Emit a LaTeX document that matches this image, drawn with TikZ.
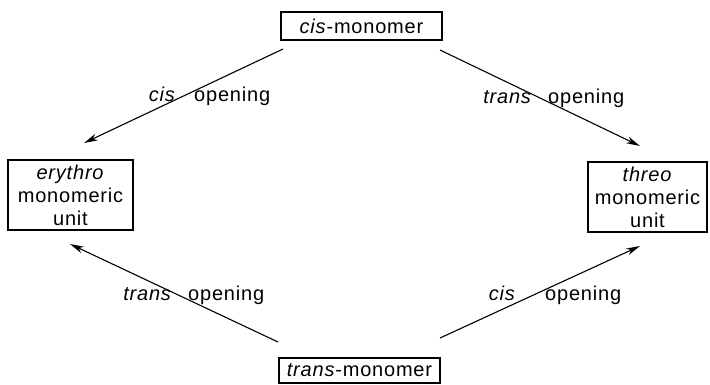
\documentclass[tikz,border=0pt]{standalone}
\usepackage{fontspec}
\setmainfont{Liberation Sans}[LetterSpace=4]
\usetikzlibrary{arrows.meta}
\begin{document}
\begin{tikzpicture}[x=1pt,y=-1pt,
  box/.style={draw, line width=1.5pt, inner sep=0pt, align=center,
    font=\fontsize{20}{23}\selectfont},
  lab/.style={font=\fontsize{20}{23}\selectfont, inner sep=0pt},
  arr/.style={line width=1.1pt, -{Stealth[length=14pt,width=7pt]}}]
\useasboundingbox (0,0) rectangle (710,384);
\node[box, minimum width=161pt, minimum height=28pt] (cis) at (361.5,26) {\textit{cis}-monomer};
\node[box, minimum width=161pt, minimum height=25pt] (trans) at (359.5,370.5) {\textit{trans}-monomer};
\node[box, minimum width=125pt, minimum height=70pt] (ery) at (70.5,195) {\textit{erythro}\\monomeric\\unit};
\node[box, minimum width=119pt, minimum height=70pt] (thr) at (647.5,197) {\textit{threo}\\monomeric\\unit};
\coordinate (a1) at (283,49);  \coordinate (a2) at (84,143);
\coordinate (b1) at (440,50);  \coordinate (b2) at (640,146);
\coordinate (c1) at (278,342); \coordinate (c2) at (70,244);
\coordinate (d1) at (440,338); \coordinate (d2) at (640,246);
\draw[arr] (a1) -- (a2);
\draw[arr] (b1) -- (b2);
\draw[arr] (c1) -- (c2);
\draw[arr] (d1) -- (d2);
\node[lab, anchor=base east] (l1) at (176,101) {\textit{cis}};
\node[lab, anchor=base west] (l2) at (194,101) {opening};
\node[lab, anchor=base east] (l3) at (532,103) {\textit{trans}};
\node[lab, anchor=base west] (l4) at (548,103) {opening};
\node[lab, anchor=base east] (l5) at (172,300) {\textit{trans}};
\node[lab, anchor=base west] (l6) at (188,300) {opening};
\node[lab, anchor=base east] (l7) at (516,300) {\textit{cis}};
\node[lab, anchor=base west] (l8) at (545,300) {opening};
\end{tikzpicture}
\end{document}
